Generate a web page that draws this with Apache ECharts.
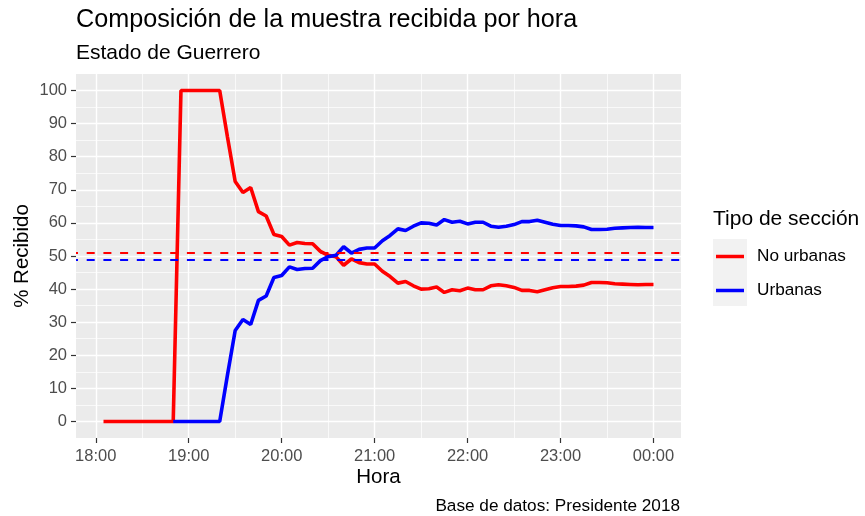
<!DOCTYPE html>
<html lang="es">
<head>
  <meta charset="UTF-8">
  <title>Composición de la muestra recibida por hora</title>
  <script src="https://cdn.jsdelivr.net/npm/echarts@6/dist/echarts.min.js"></script>
</head>
<body style="margin:0;background:#fff;">
  <div id="main" style="width:865px;height:516px;"></div>
  <script type="text/javascript">
    // horas de corte (cada 5 minutos)
    var horas = [
      '18:05','18:10','18:15','18:20','18:25','18:30','18:35','18:40','18:45','18:50',
      '18:55','19:00','19:05','19:10','19:15','19:20','19:25','19:30','19:35','19:40',
      '19:45','19:50','19:55','20:00','20:05','20:10','20:15','20:20','20:25','20:30',
      '20:35','20:40','20:45','20:50','20:55','21:00','21:05','21:10','21:15','21:20',
      '21:25','21:30','21:35','21:40','21:45','21:50','21:55','22:00','22:05','22:10',
      '22:15','22:20','22:25','22:30','22:35','22:40','22:45','22:50','22:55','23:00',
      '23:05','23:10','23:15','23:20','23:25','23:30','23:35','23:40','23:45','23:50',
      '23:55','00:00'
    ];

    // % recibido, secciones no urbanas
    var noUrbanas = [
      0, 0, 0, 0, 0, 0, 0, 0, 0, 0,
      100, 100, 100, 100, 100, 100, 86, 72.5, 69.2, 70.7,
      63.4, 62.1, 56.5, 55.9, 53.3, 54.1, 53.8, 53.7, 51.4, 50.2,
      49.8, 47.2, 49.1, 48.0, 47.6, 47.6, 45.4, 43.8, 41.8, 42.3,
      41.0, 40.0, 40.1, 40.6, 39.0, 39.8, 39.5, 40.3, 39.8, 39.8,
      41.0, 41.3, 41.0, 40.5, 39.6, 39.6, 39.2, 39.8, 40.4, 40.8,
      40.8, 40.9, 41.2, 42.0, 42.0, 41.9, 41.6, 41.5, 41.4, 41.3,
      41.4, 41.4
    ];

    // % recibido, secciones urbanas (sin dato antes de las 18:50)
    var urbanas = [
      null, null, null, null, null, null, null, null, null, 0,
      0, 0, 0, 0, 0, 0, 14.0, 27.5, 30.8, 29.3,
      36.6, 37.9, 43.5, 44.1, 46.7, 45.9, 46.2, 46.3, 48.6, 49.8,
      50.2, 52.8, 50.9, 52.0, 52.4, 52.4, 54.6, 56.2, 58.2, 57.7,
      59.0, 60.0, 59.9, 59.4, 61.0, 60.2, 60.5, 59.7, 60.2, 60.2,
      59.0, 58.7, 59.0, 59.5, 60.4, 60.4, 60.8, 60.2, 59.6, 59.2,
      59.2, 59.1, 58.8, 58.0, 58.0, 58.1, 58.4, 58.5, 58.6, 58.7,
      58.6, 58.6
    ];

    // proporciones esperadas (líneas punteadas)
    var esperadoNoUrbanas = 51;
    var esperadoUrbanas = 49;

    var xTickLabels = ['18:00', '19:00', '20:00', '21:00', '22:00', '23:00', '00:00'];
    var yTicks = [0, 10, 20, 30, 40, 50, 60, 70, 80, 90, 100];

    // minutos desde las 18:00
    function aMinutos(h) {
      var p = h.split(':');
      var m = (+p[0]) * 60 + (+p[1]);
      if (m < 18 * 60) m += 24 * 60;
      return m - 18 * 60;
    }
    var xMajor = xTickLabels.map(aMinutos);
    var xMinor = [];
    for (var i = 0; i < xMajor.length - 1; i++) xMinor.push((xMajor[i] + xMajor[i + 1]) / 2);
    var yMinor = [];
    for (var j = 0; j < yTicks.length - 1; j++) yMinor.push((yTicks[j] + yTicks[j + 1]) / 2);

    function pares(vals) {
      return horas.map(function (h, k) { return [aMinutos(h), vals[k]]; });
    }

    var xs = horas.map(aMinutos);
    var xSpan = xs[xs.length - 1] - xs[0];
    var xMin = xs[0] - 0.05 * xSpan;
    var xMax = xs[xs.length - 1] + 0.05 * xSpan;

    var font = 'Liberation Sans, Arial, sans-serif';
    var myChart = echarts.init(document.getElementById('main'));

    var option = {
      animation: false,
      textStyle: { fontFamily: font },
      title: [
        { text: 'Composición de la muestra recibida por hora', left: 71, top: 3,
          textStyle: { fontSize: 25.2, fontWeight: 'normal', color: '#000', fontFamily: font } },
        { text: 'Estado de Guerrero', left: 71, top: 38,
          textStyle: { fontSize: 21, fontWeight: 'normal', color: '#000', fontFamily: font } },
        { text: 'Base de datos: Presidente 2018', right: 180, top: 493,
          textStyle: { fontSize: 17.2, fontWeight: 'normal', color: '#000', fontFamily: font } },
        { text: 'Tipo de sección', left: 708, top: 204,
          textStyle: { fontSize: 21, fontWeight: 'normal', color: '#000', fontFamily: font } }
      ],
      graphic: [
        { type: 'rect', left: 713, top: 239, shape: { width: 34, height: 67 },
          style: { fill: '#f2f2f2' }, z: 0 }
      ],
      legend: {
        data: ['No urbanas', 'Urbanas'],
        orient: 'vertical',
        left: 716,
        top: 248,
        padding: 0,
        icon: 'rect',
        itemWidth: 28,
        itemHeight: 3.5,
        itemGap: 17,
        textStyle: { fontSize: 17.2, color: '#000', fontFamily: font, padding: [0, 0, 0, 8] }
      },
      grid: {
        left: 76, right: 184, top: 74, bottom: 78,
        show: true, backgroundColor: '#ebebeb', borderWidth: 0
      },
      xAxis: [
        {
          type: 'value', min: xMin, max: xMax,
          name: 'Hora', nameLocation: 'middle', nameGap: 29, nameMoveOverlap: false,
          nameTextStyle: { fontSize: 20.5, color: '#000' },
          axisLine: { show: false, onZero: false },
          axisTick: { show: true, length: 5, customValues: xMajor, lineStyle: { color: '#333', width: 1.2 } },
          axisLabel: {
            customValues: xMajor, margin: 10, fontSize: 16.5, color: '#4d4d4d',
            formatter: function (v) { return xTickLabels[xMajor.indexOf(v)]; }
          },
          splitLine: { show: true, lineStyle: { color: '#fff', width: 1.4 } }
        },
        {
          type: 'value', min: xMin, max: xMax, position: 'bottom',
          axisLine: { show: false, onZero: false },
          axisTick: { show: false, customValues: xMinor },
          axisLabel: { show: false, customValues: xMinor },
          splitLine: { show: true, lineStyle: { color: '#fff', width: 0.7 } }
        }
      ],
      yAxis: [
        {
          type: 'value', min: -5, max: 105,
          name: '% Recibido', nameLocation: 'middle', nameGap: 43, nameRotate: 90, nameMoveOverlap: false,
          nameTextStyle: { fontSize: 20.5, color: '#000' },
          axisLine: { show: false, onZero: false },
          axisTick: { show: true, length: 5, customValues: yTicks, lineStyle: { color: '#333', width: 1.2 } },
          axisLabel: { customValues: yTicks, margin: 9, fontSize: 16.5, color: '#4d4d4d' },
          splitLine: { show: true, lineStyle: { color: '#fff', width: 1.4 } }
        },
        {
          type: 'value', min: -5, max: 105, position: 'left',
          axisLine: { show: false, onZero: false },
          axisTick: { show: false, customValues: yMinor },
          axisLabel: { show: false, customValues: yMinor },
          splitLine: { show: true, lineStyle: { color: '#fff', width: 0.7 } }
        }
      ],
      series: [
        {
          name: 'No urbanas', type: 'line', data: pares(noUrbanas),
          showSymbol: false, symbol: 'none', connectNulls: false,
          lineStyle: { color: '#ff0000', width: 3.6 }, itemStyle: { color: '#ff0000' },
          markLine: {
            silent: true, symbol: 'none', label: { show: false },
            lineStyle: { color: '#ff0000', type: [8, 8.7], dashOffset: 6, width: 1.8 },
            data: [{ yAxis: esperadoNoUrbanas }]
          }
        },
        {
          name: 'Urbanas', type: 'line', data: pares(urbanas),
          showSymbol: false, symbol: 'none', connectNulls: false,
          lineStyle: { color: '#0000ff', width: 3.6 }, itemStyle: { color: '#0000ff' },
          markLine: {
            silent: true, symbol: 'none', label: { show: false },
            lineStyle: { color: '#0000ff', type: [8, 8.7], dashOffset: 6, width: 1.8 },
            data: [{ yAxis: esperadoUrbanas }]
          }
        }
      ]
    };

    myChart.setOption(option);
  </script>
</body>
</html>
